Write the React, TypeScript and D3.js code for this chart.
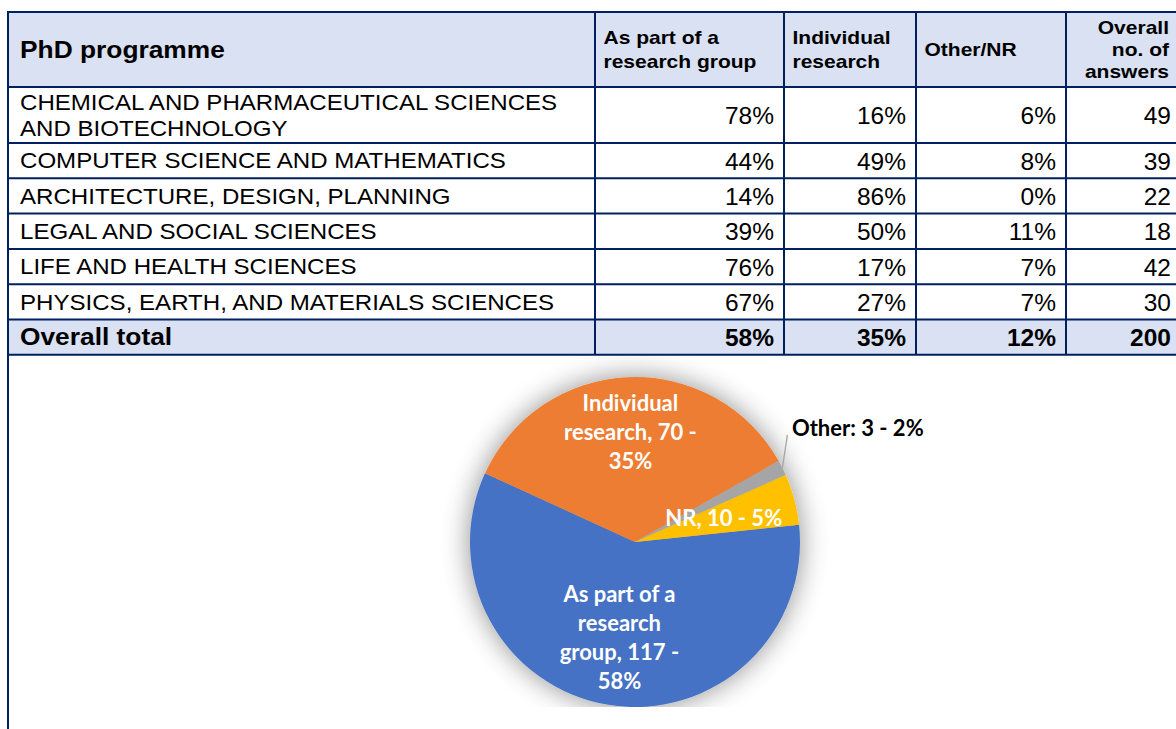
import React from 'react';
import * as d3 from 'd3';

// table data
const programmeLines = [
  ['CHEMICAL AND PHARMACEUTICAL SCIENCES', 'AND BIOTECHNOLOGY'],
  ['COMPUTER SCIENCE AND MATHEMATICS'],
  ['ARCHITECTURE, DESIGN, PLANNING'],
  ['LEGAL AND SOCIAL SCIENCES'],
  ['LIFE AND HEALTH SCIENCES'],
  ['PHYSICS, EARTH, AND MATERIALS SCIENCES'],
];
const groupPct = [78, 44, 14, 39, 76, 67];
const individualPct = [16, 49, 86, 50, 17, 27];
const otherPct = [6, 8, 0, 11, 7, 7];
const answers = [49, 39, 22, 18, 42, 30];
const totalLabel = 'Overall total';
const totals = ['58%', '35%', '12%', '200'];

const headFirst = 'PhD programme';
const headLines = [
  ['As part of a', 'research group'],
  ['Individual', 'research'],
  ['Other/NR'],
  ['Overall', 'no. of', 'answers'],
];

// pie data
const pieCategories = ['As part of a research group', 'Individual research', 'Other', 'NR'];
const pieCounts = [117, 70, 3, 10];
const piePercents = [58, 35, 2, 5];
const pieColors = ['#4472C4', '#ED7D31', '#A5A5A5', '#FFC000'];
const pieLabelLines = [
  ['As part of a', 'research', `group, ${pieCounts[0]} -`, `${piePercents[0]}%`],
  ['Individual', `research, ${pieCounts[1]} -`, `${piePercents[1]}%`],
  [`Other: ${pieCounts[2]} - ${piePercents[2]}%`],
  [`NR, ${pieCounts[3]} - ${piePercents[3]}%`],
];

const W = 1176;
const H = 729;
const BORDER = '#002060';
const FILL = '#D9E1F2';
const TABLE_FONT = "'Liberation Sans', Arial, sans-serif";
const PIE_FONT = "Lato, 'Open Sans', sans-serif";

const colX = [8, 595, 784, 916, 1066, 1178];
const headerTop = 12;
const headerH = 75;
const lineRowH = 35.3;
const twoLineRowH = 56;

const Txt = ({ x, y, size, bold = false, anchor = 'start', sx = 1, children }: any) => (
  <text
    transform={`translate(${x},${y}) scale(${sx},1)`}
    fontSize={size}
    fontWeight={bold ? 700 : 400}
    textAnchor={anchor}
    fontFamily={TABLE_FONT}
    fill="#000"
  >
    {children}
  </text>
);

const App = () => {
  // row boundaries
  const rowTops: number[] = [];
  let y = headerTop + headerH;
  programmeLines.forEach((lines) => {
    rowTops.push(y);
    y += lines.length > 1 ? twoLineRowH : lineRowH;
  });
  const totalTop = y;
  const tableBottom = totalTop + lineRowH;

  const rowValues = programmeLines.map((_, i) => [
    `${groupPct[i]}%`,
    `${individualPct[i]}%`,
    `${otherPct[i]}%`,
    `${answers[i]}`,
  ]);

  // pie
  const cx = 635;
  const cy = 542;
  const r = 165;
  const start = (84 * Math.PI) / 180;
  const pie = d3.pie<number>().sort(null).value((d) => d).startAngle(start).endAngle(start + 2 * Math.PI);
  const arcs = pie(pieCounts);
  const arc = d3.arc<d3.PieArcDatum<number>>().innerRadius(0).outerRadius(r);
  const labelK = [0.585, 0.667, 1, 0.557];
  const lineGap = 29;

  return (
    <div style={{ position: 'absolute', left: 0, top: 0 }}>
      <svg width={W} height={H} style={{ display: 'block', background: '#fff' }}>
        <defs>
          <clipPath id="chartClip">
            <rect x={colX[0] + 1} y={tableBottom + 1} width={W} height={707 - tableBottom - 1} />
          </clipPath>
          <filter id="pieShadow" x="-40%" y="-40%" width="180%" height="180%">
            <feGaussianBlur in="SourceAlpha" stdDeviation="14" />
            <feComponentTransfer>
              <feFuncA type="linear" slope="0.45" />
            </feComponentTransfer>
            <feMerge>
              <feMergeNode />
              <feMergeNode in="SourceGraphic" />
            </feMerge>
          </filter>
        </defs>

        {/* header and total fills */}
        <rect x={colX[0]} y={headerTop} width={colX[5] - colX[0]} height={headerH} fill={FILL} />
        <rect x={colX[0]} y={totalTop} width={colX[5] - colX[0]} height={lineRowH} fill={FILL} />

        {/* header text */}
        <Txt x={20} y={headerTop + headerH / 2 + 8.5} size={23.3} bold sx={1.13}>
          {headFirst}
        </Txt>
        {headLines.map((lines, c) => {
          const right = c === 3;
          const gap = lines.length === 3 ? 21.7 : 23.4;
          const mid = headerTop + headerH / 2 + 6.6;
          return lines.map((ln, k) => (
            <Txt
              key={`${c}-${k}`}
              x={right ? colX[c + 2] - 9 : colX[c + 1] + 8.5}
              y={mid + (k - (lines.length - 1) / 2) * gap}
              size={18.6}
              bold
              sx={1.13}
              anchor={right ? 'end' : 'start'}
            >
              {ln}
            </Txt>
          ));
        })}

        {/* body rows */}
        {programmeLines.map((lines, i) => {
          const h = lines.length > 1 ? twoLineRowH : lineRowH;
          const mid = rowTops[i] + h / 2;
          return (
            <g key={i}>
              {lines.map((ln, k) => (
                <Txt key={k} x={20} y={mid + 7.8 + (k - (lines.length - 1) / 2) * 25.5} size={22} sx={1.095}>
                  {ln}
                </Txt>
              ))}
              {rowValues[i].map((v, c) => (
                <Txt key={`v${c}`} x={colX[c + 2] - (c === 3 ? 7 : 10)} y={mid + 9} size={24.5} anchor="end">
                  {v}
                </Txt>
              ))}
            </g>
          );
        })}

        {/* total row */}
        <Txt x={20} y={totalTop + lineRowH / 2 + 8.3} size={23.3} bold sx={1.13}>
          {totalLabel}
        </Txt>
        {totals.map((v, c) => (
          <Txt key={c} x={colX[c + 2] - (c === 3 ? 7 : 10)} y={totalTop + lineRowH / 2 + 9} size={24.5} bold anchor="end">
            {v}
          </Txt>
        ))}

        {/* grid lines */}
        <g stroke={BORDER} strokeWidth={2}>
          {[headerTop, ...rowTops, totalTop, tableBottom].map((yy, i) => (
            <line key={`h${i}`} x1={colX[0]} x2={colX[5]} y1={yy} y2={yy} />
          ))}
          {colX.slice(1, 5).map((xx, i) => (
            <line key={`v${i}`} x1={xx} x2={xx} y1={headerTop} y2={tableBottom} />
          ))}
          <line x1={colX[0]} x2={colX[0]} y1={headerTop - 1} y2={H} />
        </g>

        {/* pie chart */}
        <g clipPath="url(#chartClip)">
          <g transform={`translate(${cx},${cy})`} filter="url(#pieShadow)">
            {arcs.map((a, i) => (
              <path key={pieCategories[i]} d={arc(a) || ''} fill={pieColors[i]} />
            ))}
          </g>
          <g transform={`translate(${cx},${cy})`} fontFamily={PIE_FONT} fontWeight={700} fontSize={22}>
            {arcs.map((a, i) => {
              const lines = pieLabelLines[i];
              if (i === 2) {
                const mid = (a.startAngle + a.endAngle) / 2;
                const px = r * Math.sin(mid);
                const py = -r * Math.cos(mid);
                return (
                  <g key={i}>
                    <line x1={px} y1={py} x2={px + 5} y2={py - 33} stroke="#A6A6A6" strokeWidth={1.3} />
                    <text x={px + 9.5} y={py - 32} fill="#000">
                      {lines[0]}
                    </text>
                  </g>
                );
              }
              const la = d3.arc<d3.PieArcDatum<number>>().innerRadius(r * labelK[i]).outerRadius(r * labelK[i]);
              const [lx, ly] = la.centroid(a);
              return (
                <text key={i} textAnchor="middle" fill="#fff">
                  {lines.map((ln, k) => (
                    <tspan key={k} x={lx} y={ly + 7.8 + (k - (lines.length - 1) / 2) * lineGap}>
                      {ln}
                    </tspan>
                  ))}
                </text>
              );
            })}
          </g>
        </g>
      </svg>
    </div>
  );
};

export default App;
